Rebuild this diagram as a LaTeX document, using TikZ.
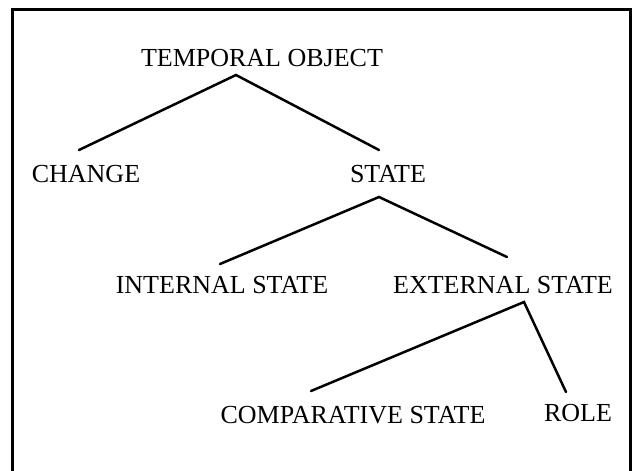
\documentclass[tikz,border=0pt]{standalone}
\usepackage{fontspec}
\setmainfont{Liberation Serif}
\begin{document}
\begin{tikzpicture}[x=1pt,y=-1pt,
  label/.style={font=\fontsize{26}{30}\selectfont, inner sep=0pt, anchor=base},
  branch/.style={line width=2.5pt, line cap=round, line join=miter}]
\useasboundingbox (0,0) rectangle (633,471);
\begin{scope}
  \clip (0,0) rectangle (633,471);
  % frame around the hierarchy (its lower edge runs off the page)
  \draw[line width=3pt] (12,9) rectangle (630.5,490);
\end{scope}

% concept labels
\node[label] (temporal) at (262,66.5) {TEMPORAL OBJECT};
\node[label] (change)   at (86,182)   {CHANGE};
\node[label] (state)    at (388,182)  {STATE};
\node[label] (internal) at (222,293)  {INTERNAL STATE};
\node[label] (external) at (503,293)  {EXTERNAL STATE};
\node[label] (compar)   at (353,423)  {COMPARATIVE STATE};
\node[label] (role)     at (578,421)  {ROLE};

% branch points under each parent and tips above each child
\coordinate (temporal-foot) at (236,75);
\coordinate (change-tip)    at (79,150);
\coordinate (state-tip)     at (379,150);
\coordinate (state-foot)    at (379,197);
\coordinate (internal-tip)  at (220,264);
\coordinate (external-tip)  at (507,257);
\coordinate (external-foot) at (524,302);
\coordinate (compar-tip)    at (311,391);
\coordinate (role-tip)      at (566,392);

\draw[branch] (change-tip) -- (temporal-foot) -- (state-tip);
\draw[branch] (internal-tip) -- (state-foot) -- (external-tip);
\draw[branch] (compar-tip) -- (external-foot) -- (role-tip);
\end{tikzpicture}
\end{document}
